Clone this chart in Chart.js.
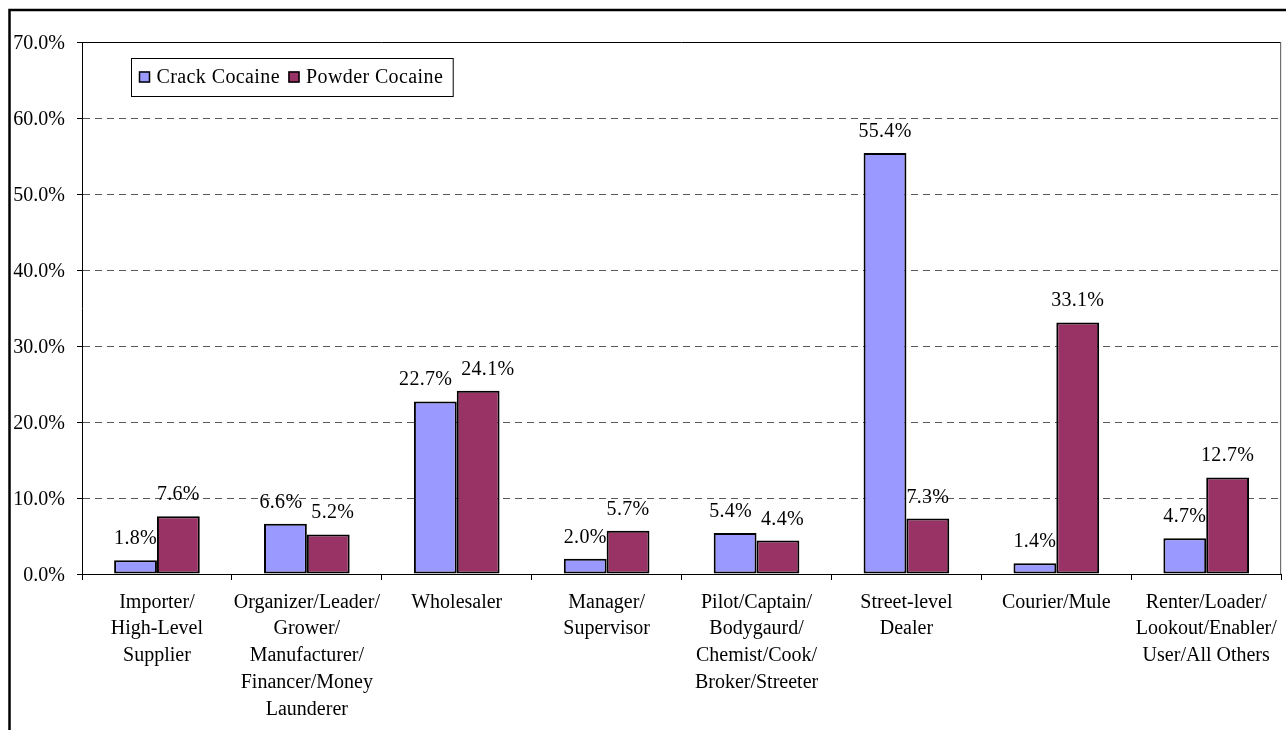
<!DOCTYPE html>
<html><head><meta charset="utf-8">
<script src="https://cdn.jsdelivr.net/npm/chart.js@4"></script>
<style>html,body{margin:0;padding:0;background:#fff}canvas{display:block}</style>
</head><body>
<canvas id="c" width="1286" height="730"></canvas>
<script>
const categories = [
  ["Importer/", "High-Level", "Supplier"],
  ["Organizer/Leader/", "Grower/", "Manufacturer/", "Financer/Money", "Launderer"],
  ["Wholesaler"],
  ["Manager/", "Supervisor"],
  ["Pilot/Captain/", "Bodygaurd/", "Chemist/Cook/", "Broker/Streeter"],
  ["Street-level", "Dealer"],
  ["Courier/Mule"],
  ["Renter/Loader/", "Lookout/Enabler/", "User/All Others"]
];
const seriesNames = ["Crack Cocaine", "Powder Cocaine"];
const crackCocaine = [1.8, 6.6, 22.7, 2.0, 5.4, 55.4, 1.4, 4.7];
const powderCocaine = [7.6, 5.2, 24.1, 5.7, 4.4, 7.3, 33.1, 12.7];
const yTickMin = 0, yTickMax = 70, yTickStep = 10;

const FONT = '"Liberation Serif", "Times New Roman", serif';

const decorPlugin = {
  id: 'decor',
  afterDraw(chart) {
    const ctx = chart.ctx;
    const a = chart.chartArea;
    ctx.save();
    // outer frame
    ctx.strokeStyle = '#000';
    ctx.lineWidth = 2.5;
    ctx.beginPath();
    ctx.moveTo(9.5, 740);
    ctx.lineTo(9.5, 10);
    ctx.lineTo(1300, 10);
    ctx.stroke();
    // plot area border top & right
    ctx.lineWidth = 1;
    ctx.strokeStyle = '#000';
    ctx.beginPath();
    ctx.moveTo(a.left, a.top + 0.5);
    ctx.lineTo(a.right - 0.5, a.top + 0.5);
    ctx.stroke();
    ctx.strokeStyle = '#555';
    ctx.beginPath();
    ctx.moveTo(a.right - 0.5, a.top);
    ctx.lineTo(a.right - 0.5, a.bottom);
    ctx.stroke();

    // data labels with simple overlap avoidance
    ctx.font = '20px ' + FONT;
    try { ctx.letterSpacing = '0.3px'; } catch (e) {}
    ctx.fillStyle = '#000';
    ctx.textAlign = 'center';
    ctx.textBaseline = 'alphabetic';
    const n = chart.data.labels.length;
    for (let i = 0; i < n; i++) {
      const labs = chart.data.datasets.map((ds, di) => {
        const bar = chart.getDatasetMeta(di).data[i];
        const text = ds.data[i].toFixed(1) + '%';
        return { text, x: bar.x, y: bar.y - 16, w: ctx.measureText(text).width };
      });
      for (let k = 0; k < labs.length - 1; k++) {
        const L = labs[k], R = labs[k + 1];
        if (Math.abs(L.y - R.y) < 20) {
          const gap = (R.x - R.w / 2) - (L.x + L.w / 2);
          const want = 9;
          if (gap < want) {
            const s = (want - gap) / 2;
            L.x -= s; R.x += s;
          }
        }
      }
      labs.forEach(l => ctx.fillText(l.text, l.x, l.y));
    }

    // legend
    try { ctx.letterSpacing = '0.4px'; } catch (e) {}
    const boxL = 131.5, boxT = 58.5, boxH = 38;
    const sq = 11;
    let x = boxL + 7.5;
    const cy = boxT + boxH / 2 - 0.5;
    const items = chart.data.datasets.map(ds => ({ ds, w: ctx.measureText(ds.label).width }));
    let total = 7.5;
    items.forEach((it, k) => { total += sq + 6.5 + it.w + (k < items.length - 1 ? 8.5 : 10); });
    ctx.fillStyle = '#fff';
    ctx.fillRect(boxL, boxT, total, boxH);
    ctx.strokeStyle = '#000';
    ctx.lineWidth = 1;
    ctx.strokeRect(boxL, boxT, total, boxH);
    ctx.textAlign = 'left';
    ctx.textBaseline = 'middle';
    items.forEach((it) => {
      ctx.fillStyle = it.ds.backgroundColor;
      ctx.fillRect(x, cy - sq / 2, sq, sq);
      ctx.strokeStyle = '#000';
      ctx.lineWidth = 1.5;
      ctx.strokeRect(x + 0.5, cy - sq / 2 + 0.5, sq - 1, sq - 1);
      x += sq + 6.5;
      ctx.fillStyle = '#000';
      ctx.fillText(it.ds.label, x, cy + 1);
      x += it.w + 8.5;
    });
    ctx.restore();
  }
};

new Chart(document.getElementById('c'), {
  type: 'bar',
  data: {
    labels: categories,
    datasets: [
      { label: seriesNames[0], data: crackCocaine, backgroundColor: '#9999FF', borderColor: '#000', borderWidth: 2, borderSkipped: false },
      { label: seriesNames[1], data: powderCocaine, backgroundColor: '#993366', borderColor: '#000', borderWidth: 2, borderSkipped: false }
    ]
  },
  options: {
    responsive: false,
    animation: false,
    devicePixelRatio: 1,
    layout: { padding: { left: 0, right: 4, top: 42, bottom: 0 } },
    datasets: { bar: { categoryPercentage: 1 / 1.75, barPercentage: 1 } },
    plugins: { legend: { display: false }, tooltip: { enabled: false }, title: { display: false } },
    scales: {
      x: {
        afterFit(scale) { scale.height = 156; },
        grid: { offset: true, drawOnChartArea: false, drawTicks: true, tickLength: 6, tickColor: '#000', tickWidth: 1 },
        border: { display: true, color: '#000', width: 1 },
        ticks: { color: '#000', font: { family: FONT, size: 20, lineHeight: 1.34 }, padding: 9, maxRotation: 0, autoSkip: false }
      },
      y: {
        min: yTickMin, max: yTickMax,
        afterFit(scale) { scale.width = 82; },
        grid: {
          color: (c) => (c.tick && (c.tick.value === yTickMin || c.tick.value === yTickMax)) ? 'rgba(0,0,0,0)' : '#5a5a5a',
          lineWidth: 1, drawTicks: true, tickLength: 5, tickColor: '#000', tickBorderDash: []
        },
        border: { display: true, color: '#000', width: 1, dash: [7, 5] },
        ticks: { stepSize: yTickStep, color: '#000', padding: 12, labelOffset: 2, font: { family: FONT, size: 20 }, callback: (v) => v.toFixed(1) + '%' }
      }
    }
  },
  plugins: [decorPlugin]
});
</script>
</body></html>
